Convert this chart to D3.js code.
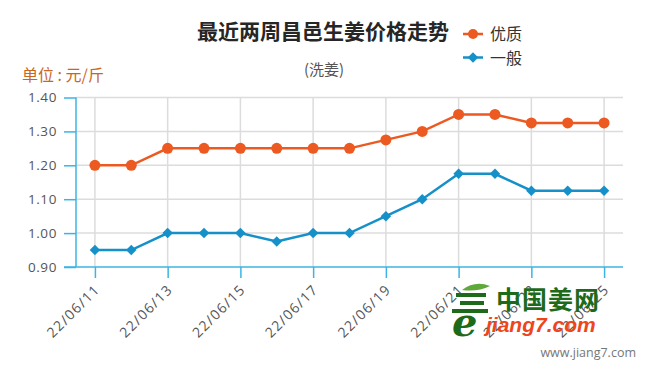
<!DOCTYPE html>
<html><head><meta charset="utf-8">
<script src="https://cdn.jsdelivr.net/npm/d3@7"></script>
<style>
html,body{margin:0;padding:0;background:#fff;}
svg{display:block;font-family:"Open Sans","Noto Sans CJK SC",sans-serif;}
</style></head>
<body>
<svg id="chart" width="645" height="375"></svg>
<script>
const dates = ["22/06/11","22/06/12","22/06/13","22/06/14","22/06/15","22/06/16","22/06/17","22/06/18","22/06/19","22/06/20","22/06/21","22/06/22","22/06/23","22/06/24","22/06/25"];
const premium = [1.20,1.20,1.25,1.25,1.25,1.25,1.25,1.25,1.275,1.30,1.35,1.35,1.325,1.325,1.325];
const ordinary = [0.95,0.95,1.00,1.00,1.00,0.975,1.00,1.00,1.05,1.10,1.175,1.175,1.125,1.125,1.125];
const yTicks = [0.90,1.00,1.10,1.20,1.30,1.40];
const seriesNames = ["优质","一般"];
const colors = ["#ec5a22","#1690c8"];
const titleText = "最近两周昌邑生姜价格走势";
const subtitleText = "(洗姜)";
const unitText = "单位 : 元/斤";

const svg = d3.select("#chart");
const L = 76, R = 623, T = 97.5, B = 267;
const x = d3.scalePoint().domain(dates).range([L, R]).padding(0.52);
const y = d3.scaleLinear().domain([0.9, 1.4]).range([B, T]);
const axisCol = "#3bb4e5";
const gridCol = "#dcdcdc";

// grid
svg.append("g").selectAll("line").data(yTicks.slice(1)).join("line")
  .attr("x1", L).attr("x2", R).attr("y1", d => y(d)).attr("y2", d => y(d))
  .attr("stroke", gridCol).attr("stroke-width", 1.5);
const labelDates = dates.filter((d,i) => i % 2 === 0);
svg.append("g").selectAll("line").data(labelDates).join("line")
  .attr("x1", d => x(d)).attr("x2", d => x(d)).attr("y1", T).attr("y2", B)
  .attr("stroke", gridCol).attr("stroke-width", 1.5);

// y axis
const yAxis = d3.axisLeft(y).tickValues(yTicks).tickFormat(d3.format(".2f")).tickSize(12).tickPadding(7);
const gy = svg.append("g").attr("transform", `translate(${L},0)`).call(yAxis);
gy.select(".domain").attr("d", `M0,${T}V${B}`).attr("stroke", axisCol).attr("stroke-width", 1.5);
gy.selectAll(".tick line").attr("stroke", axisCol).attr("stroke-width", 1.5);
gy.selectAll(".tick text").attr("fill", "#555").attr("font-size", 13.5).attr("letter-spacing", 0.6)
  .attr("font-family", "Open Sans");

// x axis
const xAxis = d3.axisBottom(x).tickValues(labelDates).tickSize(11).tickPadding(4);
const gx = svg.append("g").attr("transform", `translate(0,${B})`).call(xAxis);
gx.select(".domain").attr("d", `M${L-12},0H${R}`).attr("stroke", axisCol).attr("stroke-width", 1.5);
gx.selectAll(".tick line").attr("stroke", axisCol).attr("stroke-width", 1.5);
gx.selectAll(".tick text").attr("fill", "#555").attr("font-size", 14).attr("letter-spacing", 1.2)
  .attr("font-family", "Open Sans")
  .attr("text-anchor", "end").attr("x", 0).attr("y", 0).attr("dy", "0.35em")
  .attr("transform", "translate(2,20) rotate(-45)");

// lines
const series = [premium, ordinary];
const line = d3.line().x((d,i) => x(dates[i])).y(d => y(d));
series.forEach((s, k) => {
  svg.append("path").datum(s).attr("d", line).attr("fill", "none")
    .attr("stroke", colors[k]).attr("stroke-width", 2.5);
});
svg.append("g").selectAll("circle").data(premium).join("circle")
  .attr("cx", (d,i) => x(dates[i])).attr("cy", d => y(d)).attr("r", 5.5).attr("fill", colors[0]);
const diamond = d3.symbol().type(d3.symbolDiamond2).size(70);
svg.append("g").selectAll("path").data(ordinary).join("path")
  .attr("d", diamond).attr("transform", (d,i) => `translate(${x(dates[i])},${y(d)})`).attr("fill", colors[1]);

// title
svg.append("text").attr("x", 323).attr("y", 39).attr("text-anchor", "middle")
  .attr("font-family", "Noto Sans CJK SC").attr("font-weight", "bold").attr("font-size", 21)
  .attr("fill", "#262626").text(titleText);
svg.append("text").attr("x", 324).attr("y", 75).attr("text-anchor", "middle")
  .attr("font-family", "Noto Sans CJK SC").attr("font-size", 15).attr("fill", "#555").text(subtitleText);
svg.append("text").attr("x", 22).attr("y", 81)
  .attr("font-family", "Noto Sans CJK SC").attr("font-size", 16).attr("fill", "#c9671f").text(unitText);

// legend
const lg = svg.append("g");
seriesNames.forEach((n, k) => {
  const cy = 34 + k * 23.5;
  lg.append("line").attr("x1", 463).attr("x2", 483).attr("y1", cy).attr("y2", cy)
    .attr("stroke", colors[k]).attr("stroke-width", 2.5);
  if (k === 0) lg.append("circle").attr("cx", 473).attr("cy", cy).attr("r", 5).attr("fill", colors[k]);
  else lg.append("path").attr("d", diamond).attr("transform", `translate(473,${cy})`).attr("fill", colors[k]);
  lg.append("text").attr("x", 490).attr("y", cy + 6).attr("font-family", "Noto Sans CJK SC")
    .attr("font-size", 16).attr("fill", "#333").text(n);
});

// watermark logo
const wm = svg.append("g");
wm.append("path").attr("d", "M462,290 Q475,280 490,286 Q478,292 462,290 Z").attr("fill", "#5fa83a");
[[456,293,30],[460,301,24],[452,309,36]].forEach(([a,b,w]) =>
  wm.append("rect").attr("x", a).attr("y", b).attr("width", w).attr("height", 4).attr("fill", "#1d6b1a"));
wm.append("text").attr("x", 452).attr("y", 336).attr("font-family", "DejaVu Serif").attr("font-style", "italic")
  .attr("font-weight", "bold").attr("font-size", 40).attr("fill", "#1d6b1a").text("e");
wm.append("text").attr("x", 496).attr("y", 309).attr("font-family", "Noto Sans CJK SC").attr("font-weight", "bold")
  .attr("font-size", 25).attr("fill", "#1d6b1a").attr("letter-spacing", 1).text("中国姜网");
wm.append("text").attr("x", 486).attr("y", 332).attr("font-family", "Liberation Sans").attr("font-style", "italic")
  .attr("font-weight", "bold").attr("font-size", 21).attr("fill", "#f0451a").text("jiang7.com");
svg.append("text").attr("x", 636).attr("y", 357).attr("text-anchor", "end").attr("font-family", "Open Sans")
  .attr("font-size", 12.5).attr("fill", "#777").text("www.jiang7.com");
</script>
</body></html>
